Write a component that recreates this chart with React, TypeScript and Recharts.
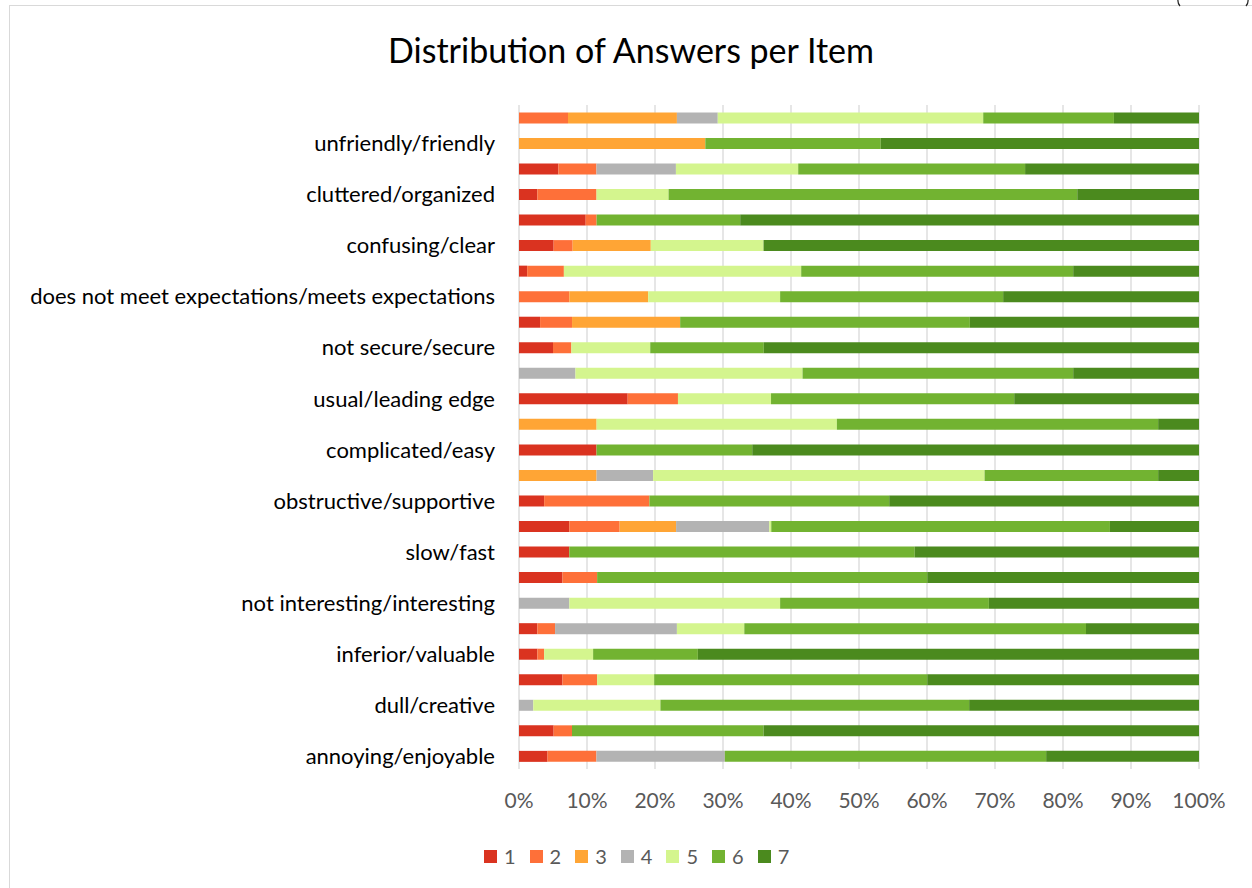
import React from 'react';
import { BarChart, Bar, XAxis, YAxis, CartesianGrid, Legend } from 'recharts';

// items listed bottom -> top, as in the original chart
const items = [
  'annoying/enjoyable',
  'not understandable/understandable',
  'dull/creative',
  'difficult to learn/easy to learn',
  'inferior/valuable',
  'boring/exciting',
  'not interesting/interesting',
  'unpredictable/predictable',
  'slow/fast',
  'conventional/inventive',
  'obstructive/supportive',
  'bad/good',
  'complicated/easy',
  'unlikable/pleasing',
  'usual/leading edge',
  'unpleasant/pleasant',
  'not secure/secure',
  'demotivating/motivating',
  'does not meet expectations/meets expectations',
  'inefficient/efficient',
  'confusing/clear',
  'impractical/practical',
  'cluttered/organized',
  'unattractive/attractive',
  'unfriendly/friendly',
  'conservative/innovative',
];

// share of answers (%) per scale point
const ans1 = [4.2, 5.1, 0, 6.4, 2.7, 2.7, 0, 6.4, 7.4, 7.4, 3.7, 0, 11.4, 0, 16.0, 0, 5.0, 3.1, 0, 1.2, 5.1, 9.8, 2.7, 5.8, 0, 0];
const ans2 = [7.2, 2.7, 0, 5.1, 1.0, 2.6, 0, 5.1, 0, 7.4, 15.5, 0, 0, 0, 7.4, 0, 2.7, 4.7, 7.4, 5.4, 2.8, 1.6, 8.7, 5.6, 0, 7.2];
const ans3 = [0, 0, 0, 0, 0, 0, 0, 0, 0, 8.3, 0, 11.4, 0, 11.4, 0, 0, 0, 15.9, 11.6, 0, 11.5, 0, 0, 0, 27.4, 16.0];
const ans4 = [18.9, 0, 2.1, 0, 0, 17.9, 7.4, 0, 0, 13.7, 0, 8.3, 0, 0, 0, 8.3, 0, 0, 0, 0, 0, 0, 0, 11.7, 0, 6.0];
const ans5 = [0, 0, 18.7, 8.4, 7.2, 9.9, 31.0, 0, 0, 0.3, 0, 48.7, 0, 35.3, 13.7, 33.4, 11.6, 0, 19.4, 34.9, 16.6, 0, 10.6, 18.0, 0, 39.0];
const ans6 = [47.3, 28.2, 45.4, 40.2, 15.4, 50.2, 30.7, 48.6, 50.8, 49.8, 35.3, 25.5, 22.9, 47.2, 35.8, 39.8, 16.7, 42.6, 32.8, 40.0, 0, 21.1, 60.1, 33.4, 25.8, 19.2];
const ans7 = [22.5, 64.1, 33.8, 40.0, 73.7, 16.6, 30.9, 40.0, 41.8, 13.1, 45.6, 6.0, 65.7, 6.0, 27.2, 18.5, 64.0, 33.7, 28.8, 18.5, 64.1, 67.4, 17.9, 25.6, 46.8, 12.5];

const seriesNames = ['1', '2', '3', '4', '5', '6', '7'];
const seriesValues = [ans1, ans2, ans3, ans4, ans5, ans6, ans7];
const seriesColors = ['#da3320', '#fe7039', '#ffa535', '#b3b3b3', '#d4f58e', '#72b331', '#4b8a1e'];

const xTicks = [0, 0.1, 0.2, 0.3, 0.4, 0.5, 0.6, 0.7, 0.8, 0.9, 1];

const data = items.map((item, i) => {
  const row: Record<string, string | number> = { item };
  seriesNames.forEach((s, k) => {
    row[s] = seriesValues[k][i];
  });
  return row;
});

const FONT = 'Lato, "Open Sans", sans-serif';

const renderLegend = (props: any) => {
  const { payload } = props;
  return (
    <div style={{ display: 'flex', alignItems: 'center' }}>
      {payload.map((entry: any) => (
        <div key={entry.value} style={{ display: 'flex', alignItems: 'center', marginRight: 14 }}>
          <div style={{ width: 13, height: 13, background: entry.color, marginRight: 7 }} />
          <span style={{ fontSize: 20, color: '#595959', fontFamily: FONT }}>{entry.value}</span>
        </div>
      ))}
    </div>
  );
};

export default function App() {
  return (
    <div
      style={{
        position: 'absolute',
        left: 0,
        top: 0,
        width: 1252,
        height: 888,
        overflow: 'hidden',
        background: '#fff',
        fontFamily: FONT,
      }}
    >
      {/* chart area frame */}
      <div
        style={{
          position: 'absolute',
          left: 9,
          top: 5,
          width: 1300,
          height: 1000,
          border: '1px solid #d9d9d9',
        }}
      />
      <svg style={{ position: 'absolute', left: 1170, top: 0 }} width={82} height={8}>
        <path d="M 12 -8 Q 5 0 10 6" fill="none" stroke="#222" strokeWidth={1.2} />
        <path d="M 74 -8 Q 81 0 76 6" fill="none" stroke="#222" strokeWidth={1.2} />
      </svg>
      <div
        style={{
          position: 'absolute',
          left: 0,
          width: 1262,
          top: 29,
          textAlign: 'center',
          fontSize: 34,
          lineHeight: '42px',
          color: '#000',
        }}
      >
        Distribution of Answers per Item
      </div>
      <div style={{ position: 'absolute', left: 0, top: 0 }}>
        <BarChart
          width={1252}
          height={888}
          data={data}
          layout="vertical"
          stackOffset="expand"
          barCategoryGap="29%"
          margin={{ top: 105, right: 53, left: 14, bottom: 79 }}
        >
          <CartesianGrid horizontal={false} stroke="#d9d9d9" strokeWidth={1.3} />
          <XAxis
            type="number"
            domain={[0, 1]}
            ticks={xTicks}
            tickFormatter={(v: number) => `${Math.round(v * 100)}%`}
            axisLine={false}
            tickLine={false}
            tickMargin={18}
            height={40}
            tick={{ fill: '#595959', fontSize: 21 }}
          />
          <YAxis
            type="category"
            dataKey="item"
            reversed
            interval={1}
            width={505}
            axisLine={false}
            tickLine={false}
            tickMargin={18}
            tick={{ fill: '#000', fontSize: 22 }}
          />
          {seriesNames.map((s, k) => (
            <Bar
              key={s}
              dataKey={s}
              stackId="a"
              fill={seriesColors[k]}
              isAnimationActive={false}
            />
          ))}
          <Legend
            verticalAlign="middle"
            layout="horizontal"
            content={renderLegend}
            wrapperStyle={{ top: 844, left: 484, width: 400 }}
          />
        </BarChart>
      </div>
    </div>
  );
}
